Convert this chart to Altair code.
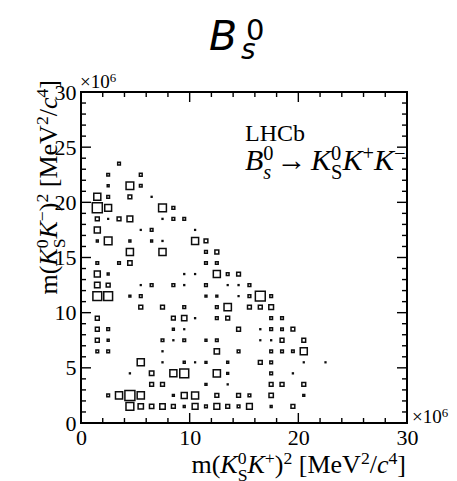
import altair as alt
import pandas as pd

SERIF = "Liberation Serif"
SANS = "DejaVu Sans"

# Dalitz-plane bins (1 x 1 in units of 10^6 MeV^2/c^4): bin centres and weighted contents,
# listed row by row from the top of the plane down.
m2_kskp = [
    3.5,
    2.5, 5.5,
    2.5, 4.5, 5.5,
    1.5, 2.5, 4.5, 6.5,
    1.5, 2.5, 7.5, 8.5,
    1.5, 2.5, 3.5, 4.5, 7.5, 8.5, 9.5,
    1.5, 5.5, 6.5, 10.5,
    1.5, 2.5, 4.5, 6.5, 7.5, 10.5, 11.5,
    4.5, 7.5, 11.5, 12.5,
    1.5, 3.5, 4.5, 11.5, 12.5,
    1.5, 2.5, 9.5, 10.5, 12.5, 13.5, 14.5,
    1.5, 2.5, 5.5, 6.5, 8.5, 9.5, 11.5, 13.5, 14.5, 15.5,
    1.5, 2.5, 4.5, 5.5, 11.5, 12.5, 14.5, 15.5, 16.5, 17.5,
    5.5, 7.5, 9.5, 12.5, 13.5, 15.5, 16.5, 17.5,
    1.5, 8.5, 9.5, 10.5, 12.5, 13.5, 17.5, 18.5,
    1.5, 2.5, 8.5, 9.5, 14.5, 16.5, 17.5, 18.5, 19.5,
    1.5, 2.5, 7.5, 8.5, 9.5, 11.5, 12.5, 16.5, 17.5, 18.5, 20.5,
    1.5, 2.5, 7.5, 12.5, 14.5, 17.5, 18.5, 19.5, 20.5,
    5.5, 7.5, 9.5, 10.5, 11.5, 13.5, 16.5, 17.5, 20.5, 22.5,
    4.5, 6.5, 8.5, 9.5, 12.5, 13.5, 17.5, 19.5,
    6.5, 7.5, 11.5, 13.5, 17.5, 18.5, 20.5,
    2.5, 3.5, 4.5, 5.5, 8.5, 9.5, 10.5, 12.5, 14.5, 15.5, 17.5, 20.5,
    4.5, 5.5, 6.5, 7.5, 8.5, 9.5, 10.5, 11.5, 12.5, 13.5, 14.5, 15.5, 17.5, 19.5,
]
m2_kskm = (
    [23.5] * 1 + [22.5] * 2 + [21.5] * 3 + [20.5] * 4 + [19.5] * 4 + [18.5] * 7
    + [17.5] * 4 + [16.5] * 7 + [15.5] * 4 + [14.5] * 5 + [13.5] * 7 + [12.5] * 10
    + [11.5] * 10 + [10.5] * 8 + [9.5] * 8 + [8.5] * 9 + [7.5] * 11 + [6.5] * 9
    + [5.5] * 10 + [4.5] * 8 + [3.5] * 7 + [2.5] * 12 + [1.5] * 14
)
content = [
    0.62,
    0.60, 0.66,
    0.30, 5.0, 0.60,
    4.2, 0.62, 1.2, 0.06,
    8.5, 4.0, 5.2, 0.70,
    1.3, 0.05, 1.25, 2.8, 0.06, 0.65, 0.60,
    3.1, 0.05, 0.60, 0.05,
    0.30, 5.0, 0.32, 0.30, 0.06, 4.2, 1.2,
    4.3, 4.3, 0.65, 1.3,
    0.60, 0.60, 1.6, 0.62, 0.62,
    3.0, 0.30, 0.06, 0.05, 4.2, 0.62, 1.2,
    2.6, 1.3, 0.05, 0.65, 0.66, 0.06, 0.62, 0.05, 0.06, 0.65,
    6.6, 6.6, 0.30, 0.62, 0.30, 0.30, 0.05, 0.64, 8.3, 0.62,
    1.3, 1.25, 0.65, 0.62, 4.6, 1.25, 1.3, 1.9,
    1.3, 1.2, 2.4, 0.06, 0.63, 1.25, 0.62, 0.62,
    1.25, 0.62, 0.30, 0.05, 1.25, 0.06, 0.64, 0.55, 1.2,
    1.3, 0.32, 0.62, 0.06, 0.62, 0.30, 0.60, 0.05, 0.06, 1.25, 1.2,
    0.62, 0.62, 0.06, 2.4, 0.62, 0.62, 0.62, 0.55, 4.2,
    4.3, 0.06, 0.32, 0.05, 0.30, 0.32, 1.25, 0.62, 0.05, 0.05,
    0.06, 1.7, 4.2, 6.8, 4.4, 0.30, 0.64, 0.06,
    1.25, 1.25, 0.32, 0.06, 1.2, 1.3, 1.25,
    0.62, 4.3, 8.5, 4.4, 0.30, 3.0, 4.2, 1.25, 1.25, 0.62, 1.6, 0.30,
    5.2, 2.4, 1.6, 2.5, 1.25, 0.30, 2.9, 0.62, 2.9, 1.25, 0.62, 2.8, 0.30, 1.25,
]

x_labels = [0, 10, 20, 30]
y_labels = [0, 5, 10, 15, 20, 25, 30]
x_minor = [v for v in range(0, 31, 2) if v % 10]
y_minor = [v for v in range(0, 31) if v % 5]

W, H = 326, 331
LO, HI = 0, 30
xs = alt.Scale(domain=[LO, HI], nice=False, zero=False)
ys = alt.Scale(domain=[LO, HI], nice=False, zero=False)

# shared axes: labels only, the inward ticks are drawn as rules below
AX_X = alt.Axis(values=x_labels, title=None, ticks=False, tickSize=0, domain=False, grid=False,
                labelFont=SERIF, labelFontSize=22, labelColor="black", labelPadding=4,
                labelFlush=False, labelOverlap=False, labelBound=False)
AX_Y = alt.Axis(values=y_labels, title=None, ticks=False, tickSize=0, domain=False, grid=False,
                labelFont=SERIF, labelFontSize=22, labelColor="black", labelPadding=5,
                labelFlush=False, labelOverlap=False, labelBound=False)

cells = pd.DataFrame({"x": m2_kskp, "y": m2_kskm, "w": content})

boxes = alt.Chart(cells).mark_square(
    filled=False, stroke="#0d0d0d", strokeWidth=1.5, opacity=1
).encode(
    x=alt.X("x:Q", scale=xs, axis=AX_X),
    y=alt.Y("y:Q", scale=ys, axis=AX_Y),
    size=alt.Size("w:Q", scale=alt.Scale(domain=[0, 8.5], range=[0, 100]), legend=None),
)

# inward ticks on all four sides, as segments in data units (10 px major, 5 px minor)
span = HI - LO
seg = {"x1": [], "x2": [], "y1": [], "y2": []}
for vals, px in ((x_labels, 10), (x_minor, 5)):
    ln = px / H * span
    for v in vals:
        for a, b in ((LO, LO + ln), (HI - ln, HI)):
            seg["x1"].append(v); seg["x2"].append(v); seg["y1"].append(a); seg["y2"].append(b)
for vals, px in ((y_labels, 10), (y_minor, 5)):
    ln = px / W * span
    for v in vals:
        for a, b in ((LO, LO + ln), (HI - ln, HI)):
            seg["y1"].append(v); seg["y2"].append(v); seg["x1"].append(a); seg["x2"].append(b)

ticks = alt.Chart(pd.DataFrame(seg)).mark_rule(color="black", strokeWidth=1.4).encode(
    x=alt.X("x1:Q", scale=xs, axis=AX_X), x2="x2:Q",
    y=alt.Y("y1:Q", scale=ys, axis=AX_Y), y2="y2:Q",
)

# advance widths (1/1000 em) of the serif face, for laying out formulas piece by piece
REG = {"m": 778, "(": 333, ")": 333, "[": 333, "]": 333, "M": 889,
       "e": 444, "V": 722, "/": 278, "+": 564, "\u2212": 564, "\u00d7": 564,
       "S": 556, "L": 611, "H": 722, "C": 667, "b": 500, "\u2192": 1000}
ITAL = {"K": 667, "B": 611, "s": 389, "c": 444}


def text_width(s, size, italic=False):
    table = ITAL if italic else REG
    return sum(table.get(ch, 500) for ch in s) * size / 1000.0


rows = []  # label, pixel x, pixel y, font size, angle, font, italic


def add(txt, x, y, size, italic=False, angle=0, font=SERIF):
    rows.append((txt, round(x, 2), round(y, 2), round(size, 2), angle, font, italic))


def formula(parts, size, x, y, angle=0, anchor="start", ratio=0.68):
    """parts: ("t", text, italic), ("s", superscript, subscript, sub_italic) or ("g", gap in em)."""
    small = size * ratio
    placed, pos = [], 0.0
    for p in parts:
        if p[0] == "t":
            placed.append((p[1], pos, 0.0, size, p[2]))
            pos += text_width(p[1], size, p[2])
        elif p[0] == "g":
            pos += p[1] * size
        else:
            _, sup, sub, sub_it = p
            w = 0.0
            if sup:
                placed.append((sup, pos, -0.33 * size, small, False))
                w = max(w, text_width(sup, small))
            if sub:
                placed.append((sub, pos, 0.30 * size, small, sub_it))
                w = max(w, text_width(sub, small, sub_it))
            pos += w
    shift = -pos if anchor == "end" else 0.0
    for t, along, across, s, it in placed:
        along += shift
        if angle == 270:   # text runs upwards, baseline shifts go to the right
            add(t, x + across, y - along, s, it, angle)
        else:
            add(t, x + along, y + across, s, it, angle)


unit_tail = [("t", ")", False), ("s", "2", "", False), ("g", 0.25), ("t", "[MeV", False),
             ("s", "2", "", False), ("t", "/", False), ("t", "c", True),
             ("s", "4", "", False), ("t", "]", False)]

formula([("t", "m(", False), ("t", "K", True), ("s", "0", "S", False),
         ("t", "K", True), ("s", "+", "", False)] + unit_tail, 26, 325, 381, anchor="end")
formula([("t", "m(", False), ("t", "K", True), ("s", "0", "S", False),
         ("t", "K", True), ("s", "\u2212", "", False)] + unit_tail, 26, -24, -12,
        angle=270, anchor="end")

add("LHCb", 164, 49, 24)
formula([("t", "B", True), ("s", "0", "s", True), ("g", 0.1), ("t", "\u2192", False),
         ("g", 0.15), ("t", "K", True), ("s", "0", "S", False), ("t", "K", True),
         ("s", "+", "", False), ("t", "K", True), ("s", "\u2212", "", False)], 30, 164, 78)

formula([("t", "\u00d710", False), ("s", "6", "", False)], 19, -1, -4)
formula([("t", "\u00d710", False), ("s", "6", "", False)], 19, 331, 331)

add("B", 128, -42, 41, True, font=SANS)
add("s", 160, -33, 28, True, font=SANS)
add("0", 165, -52, 29, False, font=SANS)

labels = pd.DataFrame(rows, columns=["label", "px", "py", "fs", "ang", "font", "ital"])

text_layers = []
for (font, ital), grp in labels.groupby(["font", "ital"]):
    text_layers.append(
        alt.Chart(grp.drop(columns=["font", "ital"]).reset_index(drop=True)).mark_text(
            align="left", baseline="alphabetic", font=font, color="black",
            fontStyle="italic" if ital else "normal",
        ).encode(
            x=alt.X("px:Q", scale=None),
            y=alt.Y("py:Q", scale=None),
            size=alt.Size("fs:Q", scale=None),
            angle=alt.Angle("ang:Q", scale=None),
            text="label:N",
        )
    )

chart = alt.layer(boxes, ticks, *text_layers).properties(
    width=W, height=H,
    autosize=alt.AutoSizeParams(type="none"),
    padding={"left": 81, "top": 92, "right": 50, "bottom": 58},
).configure_view(stroke="black", strokeWidth=2)

chart.save("out.html", embed_options={"renderer": "svg", "actions": False})
